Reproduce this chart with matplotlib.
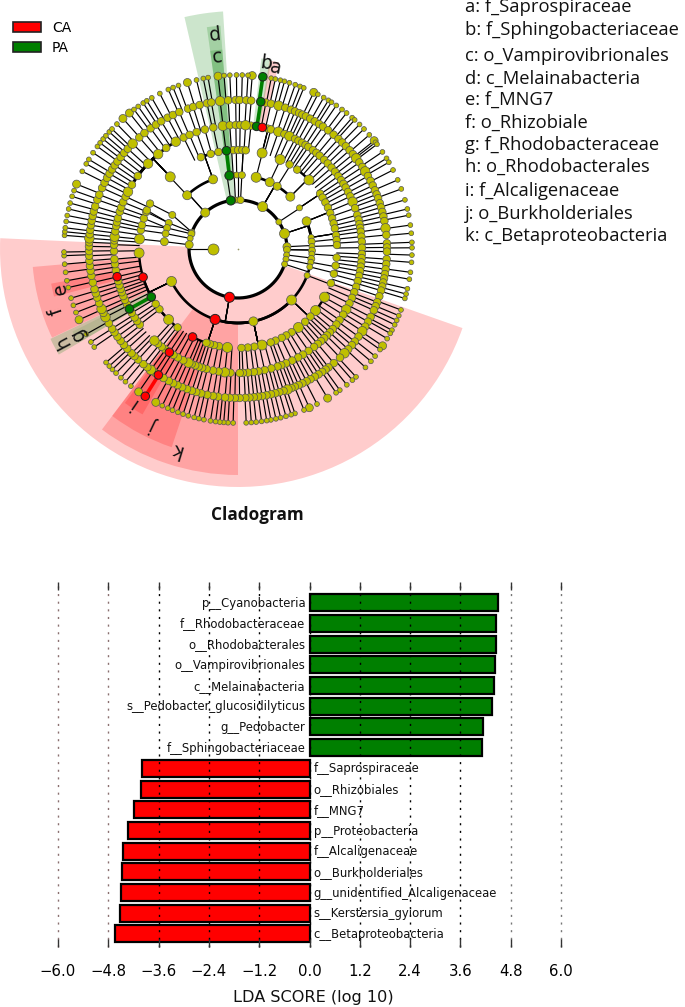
import numpy as np
import matplotlib
matplotlib.use("Agg")
import matplotlib.pyplot as plt
from matplotlib.patches import Wedge, Patch

W, H = 685, 1007
YELLOW, GREEN, RED = "#BFBF00", "#007F00", "#FF0000"

# ---------- LDA bars ----------
bar_names = ["c__Betaproteobacteria", "s__Kerstersia_gyiorum", "g__unidentified_Alcaligenaceae",
             "o__Burkholderiales", "f__Alcaligenaceae", "p__Proteobacteria", "f__MNG7",
             "o__Rhizobiales", "f__Saprospiraceae", "f__Sphingobacteriaceae", "g__Pedobacter",
             "s__Pedobacter_glucosidilyticus", "c__Melainabacteria", "o__Vampirovibrionales",
             "o__Rhodobacterales", "f__Rhodobacteraceae", "p__Cyanobacteria"]
bar_values = [-4.64, -4.53, -4.50, -4.47, -4.46, -4.33, -4.18, -4.02, -4.00,
              4.11, 4.15, 4.36, 4.39, 4.43, 4.46, 4.46, 4.49]
x_ticks = [-6.0, -4.8, -3.6, -2.4, -1.2, 0.0, 1.2, 2.4, 3.6, 4.8, 6.0]

# ---------- Cladogram key ----------
key_text = ["a: f_Saprospiraceae", "b: f_Sphingobacteriaceae", "c: o_Vampirovibrionales",
            "d: c_Melainabacteria", "e: f_MNG7", "f: o_Rhizobiale", "g: f_Rhodobacteraceae",
            "h: o_Rhodobacterales", "i: f_Alcaligenaceae", "j: o_Burkholderiales",
            "k: c_Betaproteobacteria"]
key_y_px = [7, 30, 56, 79, 100, 123, 145, 167, 191, 214, 236]

# ---------- Ring radii (index 0 is the single inner node's ring) ----------
ring_radius = [25, 49, 74, 99, 124, 149, 174]

# ring 1 (phyla)
r1_ang = [98.5, 93, 90, 87, 59.8, 33.5, 18.3, 2.7, -0.8, -7, -12, -18, 260, 132, 160, 162, 167.5, 175]
r1_dia = [9, 6, 6, 7, 10, 6, 10, 8, 7, 6, 6, 6, 10, 9, 6, 7, 6, 8]
# ring 2 (classes), with parent angle on ring 1
r2_ang = [96.7, 93.7, 91, 87, 75.8, 64.6, 58, 45, 33.8, 22, 9, 5.7, 2, -1.3, -3.9, -7.7, -10.3, -14,
          -20.9, 316.4, 282, 252, 206, 133.4, 109.7, 152.6, 159.4, 163.5, 168, 174.3]
r2_par = [98.5, 93, 90, 87, 59.8, 59.8, 59.8, 59.8, 33.5, 18.3, 18.3, 18.3, 2.7, -0.8, -0.8, -7, -12, -18,
          260, 260, 260, 260, 260, 132, 132, 160, 160, 162, 167.5, 175]
r2_dia = [9, 6, 6, 7, 10, 9, 8, 9, 6, 9, 6, 7, 6, 7, 6, 7, 6, 6, 6, 10, 9, 10, 10, 9, 9, 7, 7, 7, 7, 8]
# ring 3 (orders), with parent angle on ring 2
r3_ang = [112, 106, 101.4, 96.7, 92.7, 90, 87.5, 85.5, 75.9, 64.8, 58.6, 53.3, 44.2, 34, 31.3, 28, 24.7,
          21.3, 18, 15, 12, 8, 5.2, 2.3, -5, -9.7, -14.5, -20.2, -29.1, -38.4, -43, -47.3, -52.4, -57.2,
          -60.8, -63.8, -67.7, -70.7, -76, -80.5, -84.3, -88, 263.9, 258.9, 256, 253.5, 251.4, 242.7,
          232.4, 225.5, 217.5, 213.7, 208.9, 196.5, 182.3, 174.2, 169, 166, 162, 158, 157, 152.7, 133.2]
r3_par = [109.7, 109.7, 109.7, 96.7, 93.7, 91, 87, 87, 75.8, 64.6, 58, 45, 45, 33.8, 33.8, 33.8, 22,
          22, 22, 9, 9, 9, 5.7, 2, -3.9, -10.3, -14, -20.9, 316.4, 316.4, 316.4, 316.4, 282, 282,
          282, 282, 282, 282, 282, 282, 282, 282, 252, 252, 252, 252, 252, 252,
          206, 206, 206, 206, 206, 206, 206, 174.3, 168, 163.5, 163.5, 159.4, 159.4, 152.6, 133.4]
r3_big = [75.9, 64.8, 44.2, -29.1, -38.4, -52.4, -76, 263.9, 225.5, 182.3, 133.2, 174.2]
# ring 4 (families)
r4_ang = [84, 81.4, 78.7, 76, 74.6, 71, 68, 65.5, 62.6, 60.8, 58.9, 57, 55.4, 52.8, 50.8, 48.8, 46, 43.6, 41,
          38.5, 36, 33.7, 31.7, 29.7, 27.4, 25.1, 22.4, 19.2, 15.9, 13.7, 11.6, 9.8, 8, 5.7, 3.4, 0.6, -2.3,
          -4.2, -6.2, -8.2, -10.3, -12.5, -15, -17.8, -20.4, -23.2, -26, -29.2, -32, -35, -37.5, -40.2,
          -42.2, -44.2, -46, -48, -50, -52.2, -55.3, -58.4, -61, -64.1, -67.2, -69.6, -71.4, -74.4, -77.6,
          -80.5, -82.7, -85.4, -87.7, -89.2, 266.5, 263.9, 261, 258.4, 255.3, 253.2, 251.5, 249.8, 248,
          246.4, 243.8, 241, 238.6, 236.4, 234, 232, 229.8, 227.6, 217.6, 215.5, 213.5, 211, 208.9, 206.5,
          204.2, 202.3, 200.4, 198.8, 197, 195, 192.9, 190, 187, 184.7, 181, 178, 176, 174.3, 171.8, 169.3,
          167.5, 165.6, 162.5, 160.4, 157.8, 155, 152.5, 148.8, 143.9, 136.5, 130.1, 125.4, 120.1, 116, 113,
          109.5, 105.5, 101.5, 97, 93.8, 91, 89, 86.5]
r4_big = [71, 65.5, -29.2, 263.9, 246.4, 227.6, 174.3, 152.5, 136.5, 130.1, 120.1, 97, 86.5, 22.4]
r4_par_fix_ang = [81.4, 78.7, 152.5, 148.8, 143.9, 136.5, 130.1, 125.4, 120.1]
r4_par_fix_par = [75.9, 75.9, 133.2, 133.2, 133.2, 133.2, 133.2, 133.2, 133.2]
# ring 5 (genera)
r5_ang = [96.9, 93.8, 90.9, 89.4, 86.8, 84.9, 81.2, 79.2, 77.2, 74.2, 71.5, 69.2, 67.5, 65.8, 64.4, 62.9, 61, 59,
          57, 55.2, 52.8, 50.1, 47.6, 45.6, 43.6, 41.5, 39.5, 37.5, 35.5, 33.4, 31.4, 29.3, 27.2, 25.2, 23.2,
          21.5, 19.9, 17.9, 16.2, 14.4, 12.6, 10.8, 8, 5.4, 2.2, 0.6, -1, -3.9, -5.8, -7.8, -9.7, -11.4, -13,
          -14.6, -16.2, -18.5, -20.9, -22.6, -24.3, -27.1, -29.2, -31.4, -33.5, -36, -38.4, -40.2, -42.3, -44.4,
          -46.8, -50, -52.6, -54, -55.6, -57.3, -59, -60.9, -62.6, -64.4, -66, -67.6, -69, -70.6, -72.2, -73.9,
          -75.5, -77.2, -79, -80.7, -82.3, -83.9, -85.6, -87.2, -89.4, 268.8, 266.8, 265, 262.3, 260.4, 258.1,
          255.7, 253.7, 252, 250, 248, 246, 244.2, 242.3, 240, 237.7, 236, 234.2, 232.5, 230.6, 227.9, 226,
          224.4, 222, 220, 218, 216, 214, 212.3, 209.9, 207.2, 205.4, 203.7, 201.3, 199, 197.3, 195.6, 193, 190.4,
          188.4, 186.5, 184.5, 182.6, 180.8, 179, 177.4, 175.9, 174.3, 172.6, 170.8, 169, 167.2, 165.4, 163.4,
          160.7, 158.6, 155.8, 153.6, 151.5, 149.6, 147.7, 145.8, 144, 141.9, 139.8, 137.7, 135, 131.5, 128.9,
          125.9, 123.4, 121, 118.2, 115.9, 113.2, 109.6, 107.5, 104.9, 102, 100.3]
r5_big = [96.9, 37.5, 207.2, 234.2, 31.4, -33.5, 135, 203.7, 175.9, -44.4, -70.6, 74.2, 8]
# ring 6 (species)
r6_ang = [85.3, 86.7, 88.6, 81.8, 79, 77.6, 75.9, 74.5, 72.8, 70.8, 69.1, 67.8, 64.2, 62.7, 60.5, 58.7,
          57.5, 55.6, 53.3, 51.4, 49, 47.9, 45.7, 43.6, 41, 38.5, 37.8, 37, 33.9, 31.4, 29.9, 27, 23.4,
          20.2, 16.4, 13.3, 11.2, 7.9, 5.2, 2.2, 0.4, -2, -4.4, -7.7, -10, -13.2, -15, -16.5, -20.5,
          -22.5, -24.2, -25.8, -27.8, -29, -31, -33.8, -35.3, -38, -40.2, -42.9, -47.3, -48.9, -51.3,
          -54.2, -55.7, -59, -63, -65.8, -67.7, -70.9, -72.2, -74, -75.8, -77.4, -79.1, -80.5, -82.2,
          -84, -85.6, -87.3, 268.4, 266.7, 265.3, 264, 262.6, 260.9, 258.7, 257, 255.4, 253.4, 251.6,
          249.8, 247.9, 246.2, 244.2, 241.8, 237.8, 235.2, 232, 229.7, 227.7, 225.5, 223.8, 222.3,
          220.7, 214.3, 212.3, 209.3, 204, 201.4, 198.9, 196.4, 192.8, 190.5, 187.7, 185, 182.2, 181,
          175.5, 174.3, 173, 170.9, 168.9, 166.7, 164.7, 162.4, 160.4, 158.1, 153.5, 150.7, 149, 146.4,
          143.9, 142.4, 140.8, 139.4, 137.7, 136.4, 134.1, 131.4, 128.6, 126.7, 125, 123, 121.6, 119.7,
          116.7, 113.6, 111.9, 110, 106.9, 103.8, 101.5, 99.9, 96.6, 94.6, 92.7, 90.5]
r6_big = [85.3, 64.2, 241.8, 158.1, 131.4, 128.6, 106.9, 96.6, 38.5, -59, -33.8, -65.8, 235.2, 204]

# Coloured nodes per ring
ring_green = {1: [98.5], 2: [96.7], 3: [96.7, 208.9], 4: [81.4, 208.9], 5: [81.2], 6: [81.8]}
ring_red = {1: [260], 2: [252], 3: [242.7, 196.5], 4: [78.7, 236.4, 192.9], 5: [237.7], 6: [237.8]}

# Highlight wedges: angle from, angle to, inner r, outer r, colour, opacity
wedge_from = [177.4, 233, 233, 233.7, 185, 190.5, 205.6, 206.5, 93.6, 94.5, 94.5, 77.6, 80]
wedge_to = [340.6, 270, 251.5, 240, 205.5, 194.5, 210.5, 210.5, 103, 98, 98, 80.5, 83]
wedge_in = [49, 74, 99, 124, 99, 124, 99, 124, 49, 74, 99, 124, 124]
wedge_out = [238, 226, 209, 191, 206, 190, 208, 185, 238, 224, 200, 191, 192]
wedge_col = ["red"] * 6 + ["green"] * 2 + ["green"] * 3 + ["red", "green"]
wedge_alpha = [0.2] * 7 + [0.1] + [0.2] * 5

# Clade letters: letter, radius, angle
clade_letter = ["a", "b", "c", "d", "e", "f", "g", "h", "i", "j", "k"]
clade_r = [185, 188, 193, 215, 182, 192, 181, 198, 186, 195, 210]
clade_ang = [78.4, 81.5, 96.2, 96.1, 192.6, 198.9, 208, 207.9, 235.7, 244.5, 253]


def xy(r, a):
    t = np.deg2rad(a)
    return r * np.cos(t), r * np.sin(t)


def tree_link(ax, r_parent, a_parent, r_child, a_child, col="black", lw_arc=1.9, lw_rad=0.85):
    """Parent spoke out to the child's ring, then an arc along that ring to the child."""
    diff = (a_child - a_parent + 180) % 360 - 180
    n = max(2, int(abs(diff)) + 2)
    xs, ys = xy(r_child, a_parent + np.linspace(0, diff, n))
    ax.plot(xs, ys, color=col, lw=lw_arc, zorder=3, solid_capstyle="round")
    ax.plot(*zip(xy(r_parent, a_parent), xy(r_child, a_parent)), color=col, lw=lw_rad, zorder=3)


def straight(ax, r0, a0, r1, a1, col="black", lw=0.85):
    ax.plot(*zip(xy(r0, a0), xy(r1, a1)), color=col, lw=lw, zorder=3)


fig = plt.figure(figsize=(W / 100, H / 100), dpi=100)
ax = fig.add_axes([0, (H - 490) / H, 480 / W, 490 / H])
ax.set_xlim(-238, 242)
ax.set_ylim(-241, 249)
ax.axis("off")

for a1, a2, ri, ro, c, al in zip(wedge_from, wedge_to, wedge_in, wedge_out, wedge_col, wedge_alpha):
    ax.add_patch(Wedge((0, 0), ro, a1, a2, width=ro - ri, facecolor=c, alpha=al, lw=0, zorder=1))

# inner ring
ts = np.arange(0, 361, 2)
ax.plot(*xy(ring_radius[1], ts), color="black", lw=2.3, zorder=3)
straight(ax, ring_radius[0], 180, ring_radius[1], 180)

for a, p in zip(r2_ang, r2_par):
    if 150 <= a <= 176:      # the fan on the upper left runs straight from the inner ring
        straight(ax, ring_radius[1], p, ring_radius[2], a)
    else:
        tree_link(ax, ring_radius[1], p, ring_radius[2], a)
for a, p in zip(r3_ang, r3_par):
    if 150 <= a <= 176:
        straight(ax, ring_radius[2], p, ring_radius[3], a)
    else:
        tree_link(ax, ring_radius[2], p, ring_radius[3], a, col=GREEN if a == 96.7 else "black",
                  lw_arc=1.7, lw_rad=2.6 if a == 96.7 else 0.85)
for a in r4_ang:
    if a in r4_par_fix_ang:
        tree_link(ax, ring_radius[3], r4_par_fix_par[r4_par_fix_ang.index(a)], ring_radius[4], a, lw_arc=1.9)
    elif a == 208.9:
        straight(ax, ring_radius[3], a, ring_radius[4], a, col=GREEN, lw=2.6)
    else:
        straight(ax, ring_radius[3], a, ring_radius[4], a)
for a in r5_ang:
    straight(ax, ring_radius[4], a, ring_radius[5], a, col=GREEN if a == 81.2 else "black",
             lw=2.6 if a == 81.2 else 0.85)
for a in r6_ang:
    g, r = a == 81.8, a == 237.8
    straight(ax, ring_radius[5], a, ring_radius[6], a, col=GREEN if g else RED if r else "black",
             lw=2.6 if (g or r) else 0.85)


def draw_nodes(level, angles, dias):
    cols = []
    for a in angles:
        if a in ring_green[level]:
            cols.append(GREEN)
        elif a in ring_red[level]:
            cols.append(RED)
        else:
            cols.append(YELLOW)
    xs, ys = xy(ring_radius[level], np.asarray(angles, float))
    s = (np.asarray(dias, float) * 0.72) ** 2
    special = np.array([c != YELLOW for c in cols])
    s = np.where(special, np.maximum(s, (8.5 * 0.72) ** 2), s)
    ax.scatter(xs[~special], ys[~special], s=s[~special], c=YELLOW, edgecolors="#555555",
               linewidths=0.5, zorder=4)
    ax.scatter(xs[special], ys[special], s=s[special], c=[c for c in cols if c != YELLOW],
               edgecolors="#222222", linewidths=0.7, zorder=5)


draw_nodes(1, r1_ang, r1_dia)
draw_nodes(2, r2_ang, r2_dia)
draw_nodes(3, r3_ang, [10 if a in r3_big else 7.5 for a in r3_ang])
draw_nodes(4, r4_ang, [9.5 if a in r4_big else 7.6 for a in r4_ang])
draw_nodes(5, r5_ang, [9.5 if a in r5_big else 7.6 for a in r5_ang])
draw_nodes(6, r6_ang, [8 if a in r6_big else 4.8 for a in r6_ang])
ax.scatter(*xy(ring_radius[0], 180), s=(11 * 0.72) ** 2, c=YELLOW, edgecolors="#555555",
           linewidths=0.5, zorder=4)
ax.scatter([0], [0], s=1.5, c="#999966", linewidths=0, zorder=4)

for t, r, a in zip(clade_letter, clade_r, clade_ang):
    ax.text(*xy(r, a), t, rotation=a - 90, ha="center", va="center", fontsize=13.5, color="#111111",
            zorder=6, rotation_mode="anchor")

# legend
leg = fig.legend(handles=[Patch(facecolor=RED, edgecolor="#222222", lw=1.2, label="CA"),
                          Patch(facecolor=GREEN, edgecolor="#222222", lw=1.2, label="PA")],
                 loc="upper left", bbox_to_anchor=(13 / W, 1 - 21 / H), frameon=False, borderpad=0,
                 borderaxespad=0, fontsize=10, handlelength=2.0, handleheight=0.72,
                 handletextpad=0.8, labelspacing=0.45)

# key
for t, y in zip(key_text, key_y_px):
    fig.text(465 / W, 1 - y / H, t, fontsize=13.2, family="Open Sans", ha="left", va="center",
             color="#111111")

fig.text(257 / W, 1 - 515 / H, "Cladogram", fontsize=12.35, family="Open Sans", weight="bold",
         ha="center", va="center", color="#111111")

# LDA panel
y_top, y_bot = 582, 947
ax2 = fig.add_axes([58 / W, 1 - y_bot / H, (561 - 58) / W, (y_bot - y_top) / H])
ypos = np.arange(len(bar_values))
ax2.barh(ypos, bar_values, height=0.82, color=[RED if v < 0 else GREEN for v in bar_values],
         edgecolor="black", linewidth=1.6, zorder=2)
for y, v, n in zip(ypos, bar_values, bar_names):
    if v < 0:
        ax2.text(0.1, y - 0.03, n, ha="left", va="center", fontsize=8.34, color="#111111", zorder=4)
    else:
        ax2.text(-0.1, y - 0.03, n, ha="right", va="center", fontsize=8.34, color="#111111", zorder=4)
ax2.set_xlim(-6, 6)
ax2.set_ylim(-0.63, 17.0)
ax2.set_yticks([])
ax2.set_xticks(x_ticks)
ax2.set_xticklabels([("\u2212%.1f" % abs(v)) if v < 0 else "%.1f" % v for v in x_ticks], fontsize=10.7)
ax2.tick_params(axis="x", top=True, bottom=True, length=5.5, width=1, color="#333333", direction="in", pad=12)
ax2.grid(axis="x", linestyle=(0, (1.5, 4)), color="black", linewidth=1, zorder=3)
ax2.set_axisbelow(False)
for v, gl in zip(x_ticks, ax2.get_xgridlines()):
    gl.set_clip_on(False)
    if abs(v) >= 4.8:
        gl.set_color("#8a7070" if v < 0 else "#777777")
for s in ax2.spines.values():
    s.set_visible(False)
ax2.set_xlabel("LDA SCORE (log 10)", fontsize=11.6, color="#111111")
ax2.xaxis.set_label_coords(0.5 + 4 / (561 - 58), -0.118)

fig.savefig("out.png", dpi=100)
